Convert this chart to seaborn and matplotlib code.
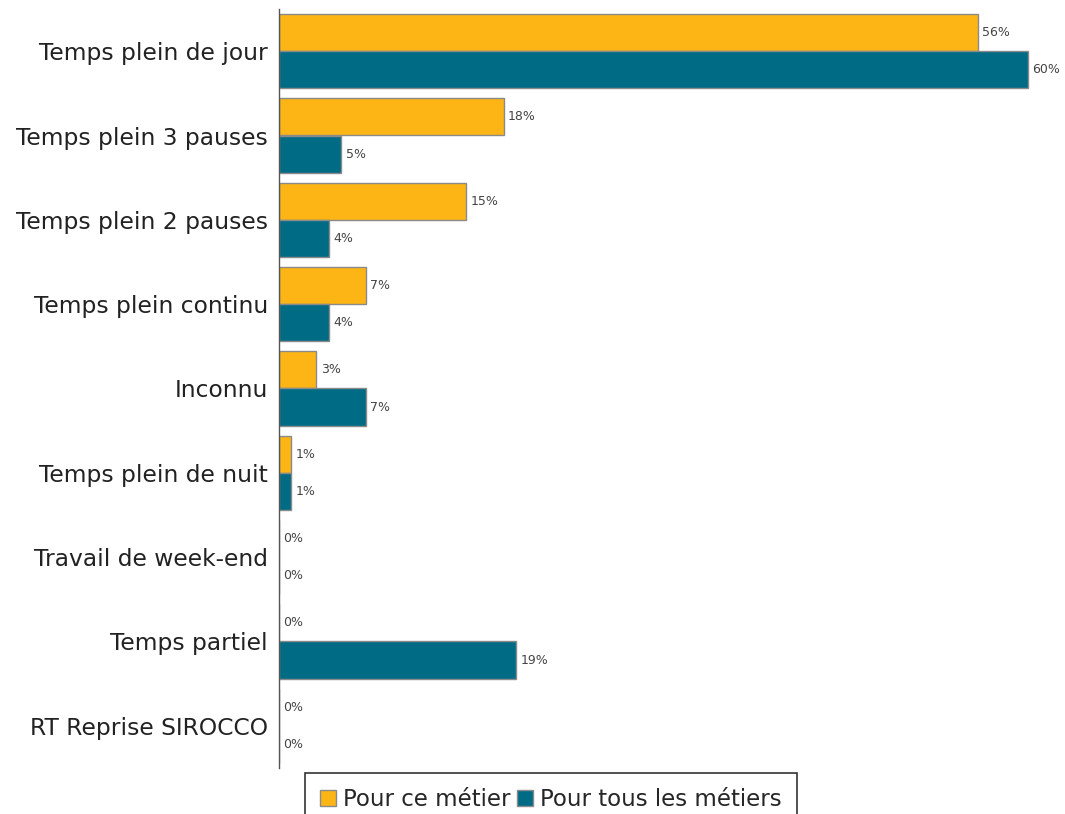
import pandas as pd
import matplotlib.pyplot as plt
import seaborn as sns
from matplotlib.patches import Patch

# Données
categories = ["Temps plein de jour", "Temps plein 3 pauses", "Temps plein 2 pauses",
              "Temps plein continu", "Inconnu", "Temps plein de nuit",
              "Travail de week-end", "Temps partiel", "RT Reprise SIROCCO"]
ce_metier = [56, 18, 15, 7, 3, 1, 0, 0, 0]
tous_metiers = [60, 5, 4, 4, 7, 1, 0, 19, 0]
series = ["Pour ce métier", "Pour tous les métiers"]
couleurs = ["#FDB515", "#006B84"]

data = pd.DataFrame({
    "categorie": categories * 2,
    "valeur": ce_metier + tous_metiers,
    "serie": [series[0]] * len(categories) + [series[1]] * len(categories),
})

sns.set_style("white")
plt.rcParams["font.family"] = ["DejaVu Sans"]

fig = plt.figure(figsize=(10.65, 8.14), dpi=100)
ax = fig.add_axes([279 / 1065, 1 - 768 / 814, (1040 - 279) / 1065, (768 - 9) / 814])

sns.barplot(data=data, y="categorie", x="valeur", hue="serie", order=categories,
            hue_order=series, palette=couleurs, saturation=1, width=0.88, orient="h",
            edgecolor="#8a8a8a", linewidth=1, ax=ax, legend=False)

for cont in ax.containers:
    ax.bar_label(cont, labels=[f"{int(v)}%" for v in cont.datavalues],
                 padding=3, fontsize=9, color="#444444")

ax.set_xlim(0, 61)
ax.set_ylim(len(categories) - 0.5, -0.5)
ax.set_xlabel("")
ax.set_ylabel("")
ax.set_xticks([])
ax.tick_params(axis="y", which="major", length=0, labelsize=16.8, pad=8, labelcolor="#222222")
ax.set_yticks([i + 0.5 for i in range(len(categories) - 1)], minor=True)
ax.tick_params(axis="y", which="minor", length=4, width=1, color="#555555", direction="out")
for s in ["top", "right", "bottom"]:
    ax.spines[s].set_visible(False)
ax.spines["left"].set_color("#555555")
ax.spines["left"].set_linewidth(1)

handles = [Patch(facecolor=c, edgecolor="#8a8a8a", label=s) for c, s in zip(couleurs, series)]
leg = fig.legend(handles=handles, loc="upper center", bbox_to_anchor=(551 / 1065, 1 - 773 / 814),
                 ncol=2, fontsize=16.5, frameon=True, fancybox=False, handlelength=0.7,
                 handleheight=0.7, handletextpad=0.3, columnspacing=0.3, borderpad=0.65,
                 borderaxespad=0)
leg.get_frame().set_edgecolor("black")
leg.get_frame().set_linewidth(1.2)

fig.savefig("out.png", dpi=100)
